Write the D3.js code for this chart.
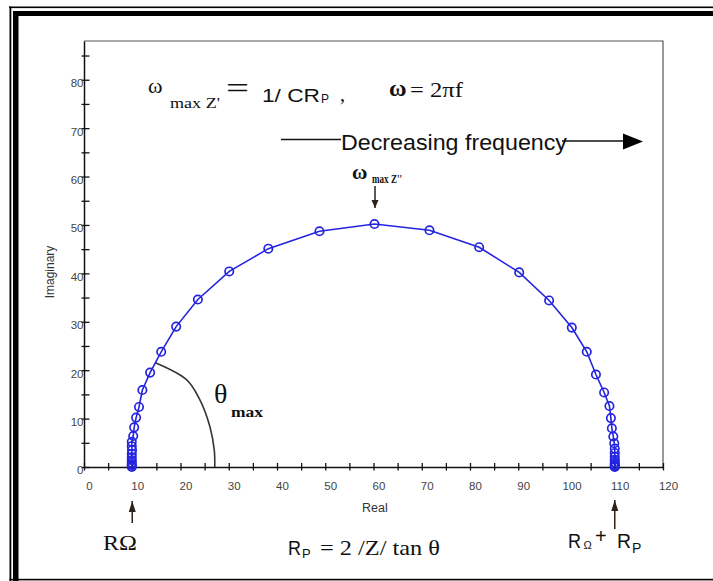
<!DOCTYPE html>
<html>
<head>
<meta charset="utf-8">
<script src="https://cdn.jsdelivr.net/npm/d3@7"></script>
<style>
  html, body { margin: 0; padding: 0; background: #fff; }
  svg { display: block; }
</style>
</head>
<body>
<script>
// Nyquist plot values (left = high frequency)
const realValues = [9.9, 9.9, 9.9, 9.9, 9.9, 9.9, 9.9, 9.95, 9.9, 9.9,
  10.2, 10.4, 10.8, 11.4, 12.1, 13.7, 16.0, 19.1, 23.6, 30.1, 38.2, 48.8,
  60.2, 71.6, 81.9, 90.2, 96.4, 101.1, 104.2, 106.1, 107.8, 108.9, 109.2,
  109.4, 109.7, 109.9, 110, 110, 110, 110, 110, 110, 110, 110, 110]
const imagValues = [0, 0.2, 0.5, 0.9, 1.4, 2.0, 2.7, 3.5, 4.3, 5.2,
  6.4, 8.2, 10.2, 12.4, 15.9, 19.5, 23.8, 29.0, 34.6, 40.4, 45.1, 48.7,
  50.2, 48.9, 45.4, 40.2, 34.4, 28.8, 23.8, 19.1, 15.4, 12.6, 10.1,
  8.0, 6.3, 4.9, 3.8, 2.9, 2.1, 1.5, 1.0, 0.6, 0.3, 0.1, 0]

const xTicks = d3.range(0, 121, 5)
const yTicks = d3.range(0, 86, 5)
const xTickLabels = d3.range(0, 121, 10)
const yTickLabels = d3.range(0, 81, 10)

// theta annotation curve (data units)
const thetaArc = [[14.9, 21.5], [21.3, 18.0], [24.0, 13.9], [26.1, 8.3], [27.0, 3.5], [27.1, 0]]

const W = 713, H = 581
const plotL = 84, plotR = 663, plotT = 41, plotB = 467

const svg = d3.select('body').append('svg')
  .attr('width', W)
  .attr('height', H)

// outer double frame
svg.append('rect').attr('x', 9).attr('y', 6.5).attr('width', W).attr('height', 1.6).attr('fill', '#000')
svg.append('rect').attr('x', 9.5).attr('y', 6.5).attr('width', 1.8).attr('height', H).attr('fill', '#000')
svg.append('rect').attr('x', 13).attr('y', 11).attr('width', W).attr('height', 5).attr('fill', '#000')
svg.append('rect').attr('x', 13).attr('y', 11).attr('width', 5.5).attr('height', H).attr('fill', '#000')
svg.append('rect').attr('x', 9.5).attr('y', 578.8).attr('width', W).attr('height', 1.6).attr('fill', '#000')

const x = d3.scaleLinear().domain([0, 120]).range([plotL, plotR])
const y = d3.scaleLinear().domain([0, 88]).range([plotB, plotT])

// plot box
svg.append('path')
  .attr('d', `M${plotL},${plotT}H${plotR}V${plotB}`)
  .attr('fill', 'none')
  .attr('stroke', '#555')
  .attr('stroke-width', 1.2)

// axes
const gx = svg.append('g').attr('transform', `translate(0,${plotB})`)
  .call(d3.axisBottom(x).tickValues(xTicks).tickFormat(d => xTickLabels.includes(d) ? d : '').tickSizeOuter(0))
gx.select('.domain').attr('stroke', '#111').attr('stroke-width', 1.5)
gx.selectAll('.tick line').attr('y1', -4).attr('y2', 3.5).attr('stroke', '#111').attr('stroke-width', 1.3)
gx.selectAll('.tick text')
  .attr('y', 23).attr('dy', 0).attr('dx', 5)
  .attr('font-family', 'Liberation Sans, Arial, sans-serif').attr('font-size', 11.5).attr('fill', '#444')

const gy = svg.append('g').attr('transform', `translate(${plotL},0)`)
  .call(d3.axisLeft(y).tickValues(yTicks).tickFormat(d => yTickLabels.includes(d) ? d : '').tickSizeOuter(0))
gy.select('.domain').attr('stroke', '#111').attr('stroke-width', 1.5)
gy.selectAll('.tick line').attr('x1', -2.5).attr('x2', 5.5).attr('stroke', '#111').attr('stroke-width', 1.3)
gy.selectAll('.tick text')
  .attr('x', -0.5).attr('dy', '0.6em')
  .attr('font-family', 'Liberation Sans, Arial, sans-serif').attr('font-size', 11.5).attr('fill', '#444')

// data line + markers
const pts = realValues.map((r, i) => [r, imagValues[i]])
const blue = '#2424e0'
svg.append('path')
  .datum(pts)
  .attr('fill', 'none')
  .attr('stroke', blue)
  .attr('stroke-width', 1.6)
  .attr('d', d3.line().x(d => x(d[0])).y(d => y(d[1])))

svg.selectAll('.pt')
  .data(pts)
  .enter().append('circle')
    .attr('class', 'pt')
    .attr('cx', d => x(d[0]))
    .attr('cy', d => y(d[1]))
    .attr('r', 4.2)
    .attr('fill', 'none')
    .attr('stroke', blue)
    .attr('stroke-width', 1.7)

// theta arc
svg.append('path')
  .datum(thetaArc)
  .attr('fill', 'none')
  .attr('stroke', '#3a3430')
  .attr('stroke-width', 1.6)
  .attr('d', d3.line().curve(d3.curveCatmullRom).x(d => x(d[0])).y(d => y(d[1])))

// text helper: parts = [text, x, y, font, size, weight, textLength, fill]
const serif = 'Liberation Serif, Times New Roman, serif'
const sans = 'Liberation Sans, Arial, sans-serif'
const label = parts => parts.forEach(p => {
  const t = svg.append('text')
    .attr('x', p[1]).attr('y', p[2])
    .attr('font-family', p[3]).attr('font-size', p[4])
    .attr('font-weight', p[5] || 'normal')
    .attr('fill', p[7] || '#111')
    .text(p[0])
  if (p[6]) t.attr('textLength', p[6]).attr('lengthAdjust', 'spacingAndGlyphs')
})

label([
  ['ω', 148, 93, serif, 22],
  ['max Z\'', 170, 108, serif, 15, 'normal', 50],
  ['=', 226, 98, serif, 30, 'normal', 23],
  ['1/ CR', 262, 102, sans, 19, 'normal', 58],
  ['P', 321, 103, sans, 12],
  [',', 340, 101, serif, 20],
  ['ω', 389, 96, serif, 24, 'bold'],
  ['= 2πf', 410, 97, serif, 21, 'normal', 53],
  ['Decreasing frequency', 341, 150, sans, 22, 'normal', 226],
  ['ω', 352, 179, serif, 21, 'bold'],
  ['max Z\'\'', 372, 183, serif, 12.5, 'bold', 30],
  ['θ', 214, 403, serif, 28],
  ['max', 231, 417, serif, 15, 'bold', 32],
  ['Real', 362, 512, sans, 12.5, 'normal', 0, '#333'],
  ['RΩ', 103, 550, serif, 22, 'normal', 34],
  ['R', 288, 555, sans, 21, 'normal', 13],
  ['P', 302, 558, sans, 13],
  ['= 2 /Z/ tan θ', 320, 555, serif, 22, 'normal', 120],
  ['R', 568, 548, sans, 21, 'normal', 13],
  ['Ω', 583.5, 549, sans, 11],
  ['+', 595, 543, sans, 20],
  ['R', 617, 548, sans, 21, 'normal', 14],
  ['P', 632, 553, sans, 14]
])

svg.append('text')
  .attr('transform', 'translate(54,272) rotate(-90)')
  .attr('text-anchor', 'middle')
  .attr('font-family', sans).attr('font-size', 12).attr('fill', '#333')
  .text('Imaginary')

// frequency arrow
svg.append('line').attr('x1', 281).attr('x2', 341).attr('y1', 139.5).attr('y2', 139.5).attr('stroke', '#111').attr('stroke-width', 1.3)
svg.append('line').attr('x1', 562).attr('x2', 625).attr('y1', 141).attr('y2', 141).attr('stroke', '#111').attr('stroke-width', 1.3)
svg.append('path').attr('d', 'M623,133.5L643,141.5L623,149.5Z').attr('fill', '#000')

// small annotation arrows
const brown = '#2e2118'
const arrow = (ax, y1, y2, up) => {
  svg.append('line').attr('x1', ax).attr('x2', ax).attr('y1', y1).attr('y2', y2).attr('stroke', brown).attr('stroke-width', 1.5)
  const tip = up ? y1 : y2
  const base = up ? y1 + 11 : y2 - 8
  svg.append('path').attr('d', `M${ax},${tip}L${ax - 3.5},${base}L${ax + 3.5},${base}Z`).attr('fill', brown)
}
arrow(375, 186, 208, false)
arrow(x(10), 501, 523, true)
arrow(x(110), 500, 529, true)
</script>
</body>
</html>
